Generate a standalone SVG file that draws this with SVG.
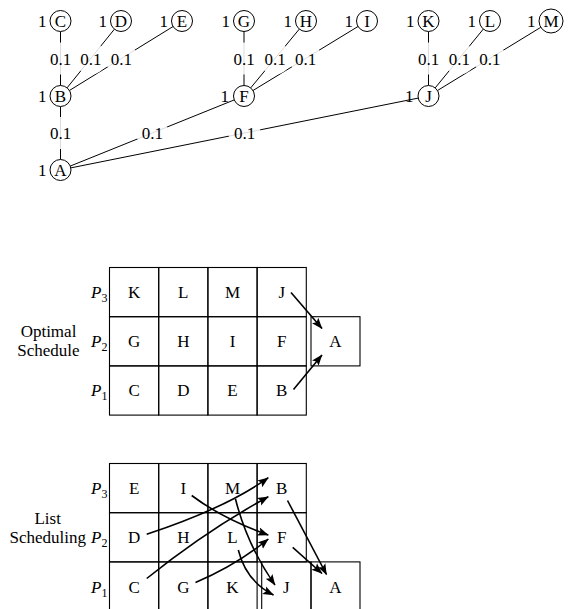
<svg xmlns="http://www.w3.org/2000/svg" width="572" height="609" viewBox="0 0 572 609" font-family="'Liberation Serif', 'Times New Roman', Times, 'DejaVu Serif', serif">
<style>
text{font-family:'Liberation Serif','Times New Roman',Times,'DejaVu Serif',serif;font-size:17px;fill:#000}
.c{text-anchor:middle}
.e{text-anchor:end}
.node circle{fill:#fff;stroke:#000;stroke-width:1}
#edges line{stroke:#000;stroke-width:1}
.halo{fill:#fff;fill-opacity:0.86}
.cell rect{fill:none;stroke:#000;stroke-width:1.1}
.arr{fill:none;stroke:#000;stroke-width:1.6;marker-end:url(#ah)}
.it{font-style:italic}
.sub{font-size:12px}
</style>
<defs>
<marker id="ah" viewBox="0 0 11 9" refX="10.5" refY="4.5" markerWidth="11" markerHeight="9" orient="auto" markerUnits="userSpaceOnUse">
<path d="M0,0.3 L11,4.5 L0,8.7 L2.2,4.5 Z" fill="#000"/>
</marker>
</defs>

<!-- graph edges -->
<g id="edges">
<line x1="60.5" y1="31.5" x2="60.5" y2="85.5"/>
<line x1="114.4" y1="29.2" x2="67.1" y2="87.8"/>
<line x1="173.1" y1="26.5" x2="69.4" y2="90.5"/>
<line x1="60.5" y1="106.5" x2="60.5" y2="159.5"/>
<line x1="244" y1="31.5" x2="244" y2="85.5"/>
<line x1="299.3" y1="29.1" x2="250.7" y2="87.9"/>
<line x1="358" y1="26.5" x2="253" y2="90.5"/>
<line x1="428.5" y1="31.5" x2="428.5" y2="85.5"/>
<line x1="483.3" y1="29.1" x2="435.2" y2="87.9"/>
<line x1="540.8" y1="27.3" x2="437.5" y2="90.5"/>
<line x1="234.3" y1="99.9" x2="70.2" y2="166.1"/>
<line x1="418.2" y1="98.1" x2="70.8" y2="167.9"/>
</g>

<g id="edge-labels">
<circle class="halo" cx="60.5" cy="58.5" r="16"/>
<circle class="halo" cx="90.75" cy="58.5" r="16"/>
<circle class="halo" cx="121.25" cy="58.5" r="16"/>
<circle class="halo" cx="60.5" cy="133" r="16"/>
<circle class="halo" cx="244" cy="58.5" r="16"/>
<circle class="halo" cx="275" cy="58.5" r="16"/>
<circle class="halo" cx="305.5" cy="58.5" r="16"/>
<circle class="halo" cx="428.5" cy="58.5" r="16"/>
<circle class="halo" cx="459.25" cy="58.5" r="16"/>
<circle class="halo" cx="489.75" cy="58.5" r="16"/>
<circle class="halo" cx="152.25" cy="133" r="16"/>
<circle class="halo" cx="244.5" cy="133" r="16"/>
<text class="c" x="60.5" y="64.5">0.1</text>
<text class="c" x="90.75" y="64.5">0.1</text>
<text class="c" x="121.25" y="64.5">0.1</text>
<text class="c" x="60.5" y="139">0.1</text>
<text class="c" x="244" y="64.5">0.1</text>
<text class="c" x="275" y="64.5">0.1</text>
<text class="c" x="305.5" y="64.5">0.1</text>
<text class="c" x="428.5" y="64.5">0.1</text>
<text class="c" x="459.25" y="64.5">0.1</text>
<text class="c" x="489.75" y="64.5">0.1</text>
<text class="c" x="152.25" y="139">0.1</text>
<text class="c" x="244.5" y="139">0.1</text>
</g>

<!-- graph nodes -->
<g id="nC" class="node"><circle cx="60.5" cy="21" r="10.5"/><text class="c" x="60.5" y="27">C</text><text class="e" x="46.5" y="27">1</text></g>
<g id="nD" class="node"><circle cx="121" cy="21" r="10.5"/><text class="c" x="121" y="27">D</text><text class="e" x="107" y="27">1</text></g>
<g id="nE" class="node"><circle cx="182" cy="21" r="10.5"/><text class="c" x="182" y="27">E</text><text class="e" x="168" y="27">1</text></g>
<g id="nG" class="node"><circle cx="244" cy="21" r="10.5"/><text class="c" x="244" y="27">G</text><text class="e" x="230" y="27">1</text></g>
<g id="nH" class="node"><circle cx="306" cy="21" r="10.5"/><text class="c" x="306" y="27">H</text><text class="e" x="292" y="27">1</text></g>
<g id="nI" class="node"><circle cx="367" cy="21" r="10.5"/><text class="c" x="367" y="27">I</text><text class="e" x="353" y="27">1</text></g>
<g id="nK" class="node"><circle cx="428.5" cy="21" r="10.5"/><text class="c" x="428.5" y="27">K</text><text class="e" x="414.5" y="27">1</text></g>
<g id="nL" class="node"><circle cx="490" cy="21" r="10.5"/><text class="c" x="490" y="27">L</text><text class="e" x="476" y="27">1</text></g>
<g id="nM" class="node"><circle cx="551" cy="21" r="12"/><text class="c" x="551" y="27">M</text><text class="e" x="535.5" y="27">1</text></g>
<g id="nB" class="node"><circle cx="60.5" cy="96" r="10.5"/><text class="c" x="60.5" y="102">B</text><text class="e" x="46.5" y="102">1</text></g>
<g id="nF" class="node"><circle cx="244" cy="96" r="10.5"/><text class="c" x="244" y="102">F</text><text class="e" x="229" y="102">1</text></g>
<g id="nJ" class="node"><circle cx="428.5" cy="96" r="10.5"/><text class="c" x="428.5" y="102">J</text><text class="e" x="413.5" y="102">1</text></g>
<g id="nA" class="node"><circle cx="60.5" cy="170" r="10.5"/><text class="c" x="60.5" y="176">A</text><text class="e" x="46.5" y="176">1</text></g>

<!-- Optimal schedule -->
<g id="opt-label"><text class="c" x="48.5" y="336.5">Optimal</text><text class="c" x="48.5" y="355.8">Schedule</text></g>
<g id="opt-p">
<text class="e" x="107.5" y="297.5"><tspan class="it">P</tspan><tspan class="sub" dy="4">3</tspan></text>
<text class="e" x="107.5" y="346.7"><tspan class="it">P</tspan><tspan class="sub" dy="4">2</tspan></text>
<text class="e" x="107.5" y="395.9"><tspan class="it">P</tspan><tspan class="sub" dy="4">1</tspan></text>
</g>
<g id="o-K" class="cell"><rect x="109.5" y="267.5" width="49.2" height="49.2"/><text class="c" x="134.1" y="297.5">K</text></g>
<g id="o-L" class="cell"><rect x="158.7" y="267.5" width="49.2" height="49.2"/><text class="c" x="183.3" y="297.5">L</text></g>
<g id="o-M" class="cell"><rect x="207.9" y="267.5" width="49.2" height="49.2"/><text class="c" x="232.5" y="297.5">M</text></g>
<g id="o-J" class="cell"><rect x="257.1" y="267.5" width="49.2" height="49.2"/><text class="c" x="281.7" y="297.5">J</text></g>
<g id="o-G" class="cell"><rect x="109.5" y="316.7" width="49.2" height="49.2"/><text class="c" x="134.1" y="346.7">G</text></g>
<g id="o-H" class="cell"><rect x="158.7" y="316.7" width="49.2" height="49.2"/><text class="c" x="183.3" y="346.7">H</text></g>
<g id="o-I" class="cell"><rect x="207.9" y="316.7" width="49.2" height="49.2"/><text class="c" x="232.5" y="346.7">I</text></g>
<g id="o-F" class="cell"><rect x="257.1" y="316.7" width="49.2" height="49.2"/><text class="c" x="281.7" y="346.7">F</text></g>
<g id="o-C" class="cell"><rect x="109.5" y="365.9" width="49.2" height="49.2"/><text class="c" x="134.1" y="395.9">C</text></g>
<g id="o-D" class="cell"><rect x="158.7" y="365.9" width="49.2" height="49.2"/><text class="c" x="183.3" y="395.9">D</text></g>
<g id="o-E" class="cell"><rect x="207.9" y="365.9" width="49.2" height="49.2"/><text class="c" x="232.5" y="395.9">E</text></g>
<g id="o-B" class="cell"><rect x="257.1" y="365.9" width="49.2" height="49.2"/><text class="c" x="281.7" y="395.9">B</text></g>
<g id="o-A" class="cell"><rect x="311" y="316.7" width="49" height="49.2"/><text class="c" x="335.5" y="346.7">A</text></g>

<!-- List scheduling -->
<g id="list-label"><text class="c" x="47.7" y="524">List</text><text class="c" x="47.7" y="543.3">Scheduling</text></g>
<g id="list-p">
<text class="e" x="107.5" y="494"><tspan class="it">P</tspan><tspan class="sub" dy="4">3</tspan></text>
<text class="e" x="107.5" y="543.3"><tspan class="it">P</tspan><tspan class="sub" dy="4">2</tspan></text>
<text class="e" x="107.5" y="592.5"><tspan class="it">P</tspan><tspan class="sub" dy="4">1</tspan></text>
</g>
<g id="l-E" class="cell"><rect x="109.5" y="463.5" width="49.2" height="49.2"/><text class="c" x="134.1" y="494">E</text></g>
<g id="l-I" class="cell"><rect x="158.7" y="463.5" width="49.2" height="49.2"/><text class="c" x="183.3" y="494">I</text></g>
<g id="l-M" class="cell"><rect x="207.9" y="463.5" width="49.2" height="49.2"/><text class="c" x="232.5" y="494">M</text></g>
<g id="l-B" class="cell"><rect x="257.1" y="463.5" width="49.2" height="49.2"/><text class="c" x="281.7" y="494">B</text></g>
<g id="l-D" class="cell"><rect x="109.5" y="512.7" width="49.2" height="49.2"/><text class="c" x="134.1" y="543.3">D</text></g>
<g id="l-H" class="cell"><rect x="158.7" y="512.7" width="49.2" height="49.2"/><text class="c" x="183.3" y="543.3">H</text></g>
<g id="l-L" class="cell"><rect x="207.9" y="512.7" width="49.2" height="49.2"/><text class="c" x="232.5" y="543.3">L</text></g>
<g id="l-F" class="cell"><rect x="257.1" y="512.7" width="49.2" height="49.2"/><text class="c" x="281.7" y="543.3">F</text></g>
<g id="l-C" class="cell"><rect x="109.5" y="561.9" width="49.2" height="60"/><text class="c" x="134.1" y="592.5">C</text></g>
<g id="l-G" class="cell"><rect x="158.7" y="561.9" width="49.2" height="60"/><text class="c" x="183.3" y="592.5">G</text></g>
<g id="l-K" class="cell"><rect x="207.9" y="561.9" width="49.2" height="60"/><text class="c" x="232.5" y="592.5">K</text></g>
<g id="l-J" class="cell"><rect x="261.7" y="561.9" width="49.3" height="60"/><text class="c" x="286.3" y="592.5">J</text></g>
<g id="l-A" class="cell"><rect x="311" y="561.9" width="49" height="60"/><text class="c" x="335.5" y="592.5">A</text></g>

<!-- arrows -->
<g id="connectors">
<path class="arr" d="M291,292.5 L322,328.5"/>
<path class="arr" d="M293.5,389.5 L322,355"/>
<path class="arr" d="M146.7,534.3 Q226,508 268.3,477.7"/>
<path class="arr" d="M146.7,578.5 Q206.5,530.5 268.3,496.7"/>
<path class="arr" d="M191.7,495.5 Q223,519 268.3,535"/>
<path class="arr" d="M235.5,499 Q247,545 275,585"/>
<path class="arr" d="M238.3,550 Q246,581 273.5,595"/>
<path class="arr" d="M195.5,582.5 Q236.3,565.2 268.3,539"/>
<path class="arr" d="M287.5,500.5 L326.5,574.5"/>
<path class="arr" d="M292.7,547.3 L322,573.5"/>
</g>
</svg>
